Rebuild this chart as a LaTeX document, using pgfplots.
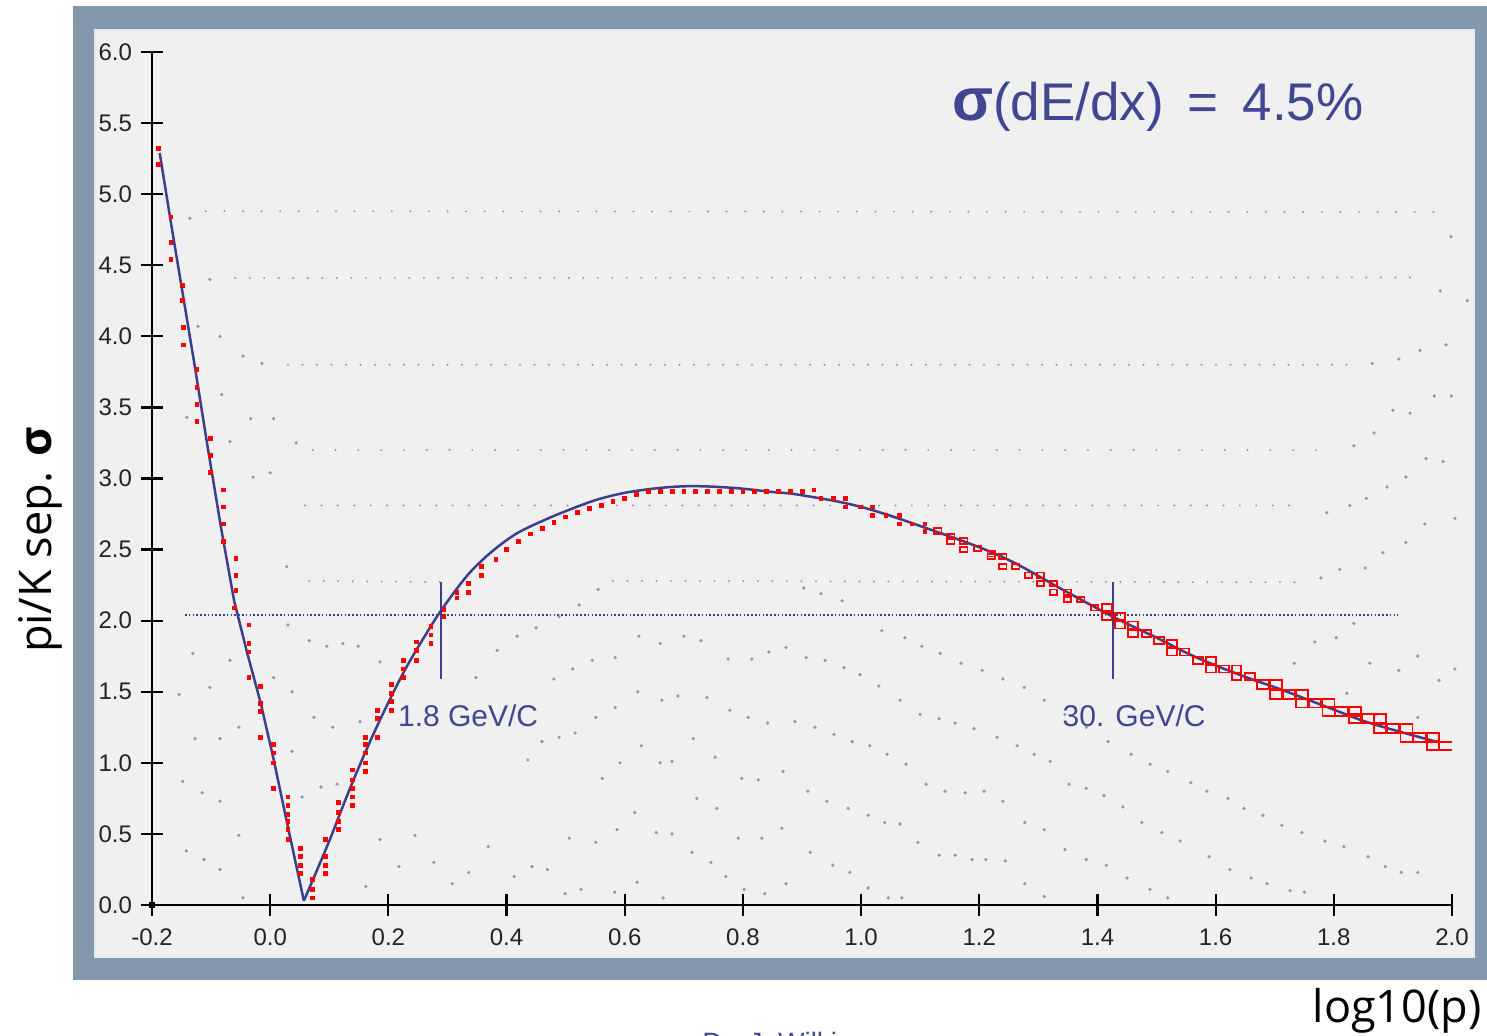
\documentclass[border=0pt]{standalone}
\usepackage{pgfplots}
\pgfplotsset{compat=1.18}
\usepackage{fontspec}
\setmainfont{Liberation Sans}
\newfontfamily\osans{Open Sans}
\definecolor{frame}{RGB}{133,151,172}
\definecolor{panel}{RGB}{240,240,240}
\definecolor{cblue}{RGB}{60,64,140}
\definecolor{tblue}{RGB}{64,70,146}
\definecolor{gdot}{RGB}{140,153,178}
\definecolor{tickgray}{RGB}{35,35,35}
\begin{document}
\begin{tikzpicture}
\useasboundingbox (0,0) rectangle (743.5pt,518pt);
\fill[frame] (36.5pt,28pt) rectangle (743.5pt,515pt);
\fill[panel] (47.5pt,39.5pt) rectangle (737pt,503pt);
\draw[white!80!frame, line width=0.6pt] (47.5pt,39.5pt) rectangle (737pt,503pt);
\begin{axis}[
  scale only axis, width=650pt, height=426.5pt,
  at={(76pt,65.5pt)}, anchor=south west,
  xmin=-0.2, xmax=2.0, ymin=0, ymax=6,
  clip=false,
  axis x line=bottom, axis y line=left,
  axis line style={-, line width=1.2pt, black},
  every outer x axis line/.append style={-},
  every outer y axis line/.append style={-},
  tick align=center, major tick length=11pt,
  tick style={line width=1.1pt, black},
  xtick={-0.2,0,0.2,0.4,0.6,0.8,1.0,1.2,1.4,1.6,1.8,2.0},
  ytick={0,0.5,1.0,1.5,2.0,2.5,3.0,3.5,4.0,4.5,5.0,5.5,6.0},
  ticklabel style={font=\fontsize{12}{14}\selectfont, text=tickgray},
  xticklabel style={yshift=-3pt},
  yticklabel style={xshift=-1pt},
  /pgf/number format/fixed, /pgf/number format/fixed zerofill,
  /pgf/number format/precision=1, /pgf/number format/assume math mode=true,
]
% ---- grey dotted background contours: rows
\addplot[gdot, line width=1.1pt, line cap=round, dash pattern=on 0pt off 9.3pt] coordinates {(-0.109,4.88) (1.969,4.875)};
\addplot[gdot, line width=1.1pt, line cap=round, dash pattern=on 0pt off 7.25pt] coordinates {(-0.059,4.41) (1.946,4.415)};
\addplot[gdot, line width=1.1pt, line cap=round, dash pattern=on 0pt off 7.25pt] coordinates {(0.030,3.80) (1.841,3.80)};
\addplot[gdot, line width=1.1pt, line cap=round, dash pattern=on 0pt off 11.4pt] coordinates {(0.072,3.20) (1.795,3.20)};
\addplot[gdot, line width=1.1pt, line cap=round, dash pattern=on 0pt off 8.2pt] coordinates {(0.059,2.81) (1.736,2.81)};
\addplot[gdot, line width=1.1pt, line cap=round, dash pattern=on 0pt off 7.25pt] coordinates {(0.066,2.28) (0.309,2.27)};
\addplot[gdot, line width=1.1pt, line cap=round, dash pattern=on 0pt off 7.25pt] coordinates {(0.58,2.28) (1.750,2.27)};
% ---- grey dots
\addplot[only marks, mark=*, mark size=0.6pt, gdot] coordinates {
(-0.136,4.83) (1.998,4.70) (-0.102,4.40) (1.980,4.32) (2.026,4.25)
(-0.122,4.07) (-0.085,4.00) (-0.046,3.86) (-0.014,3.81) (1.865,3.81) (1.910,3.84) (1.946,3.90) (1.990,3.94)
(-0.082,3.59) (-0.033,3.42) (0.006,3.42) (0.044,3.25) (1.834,3.23) (1.868,3.32) (1.900,3.48) (1.929,3.46) (1.970,3.58) (1.999,3.58)
(-0.141,3.43) (-0.068,3.26) (-0.029,3.01) (0.000,3.04)
(1.788,2.76) (1.827,2.81) (1.855,2.86) (1.890,2.94) (1.922,3.01) (1.956,3.14) (1.985,3.12)
(0.028,2.38) (1.778,2.30) (1.810,2.36) (1.853,2.37) (1.883,2.48) (1.922,2.55) (1.954,2.68) (2.005,2.72)
(0.348,1.60) (0.384,1.79) (0.418,1.89) (0.450,1.95) (0.489,2.03) (0.523,2.11) (0.555,2.22)
(0.903,2.23) (0.932,2.19) (0.968,2.14) (1.035,1.93) (1.074,1.88) (1.103,1.82) (1.134,1.77) (1.169,1.70)
(1.205,1.65) (1.240,1.59) (1.276,1.53) (1.310,1.44) (1.345,1.34) (1.381,1.25) (1.418,1.15) (1.457,1.06)
(1.489,0.99) (1.519,0.94) (1.558,0.86) (1.585,0.80) (1.621,0.75) (1.648,0.68) (1.680,0.63) (1.712,0.56)
(1.746,0.51) (1.785,0.45) (1.817,0.41) (1.858,0.34) (1.887,0.27) (1.914,0.23) (1.942,0.23)
(0.480,1.59) (0.512,1.66) (0.545,1.72) (0.584,1.74) (0.624,1.89) (0.660,1.84) (0.700,1.89) (0.729,1.86)
(0.775,1.73) (0.815,1.73) (0.844,1.78) (0.873,1.81) (0.907,1.74) (0.939,1.72) (0.971,1.67) (0.998,1.62)
(1.030,1.54) (1.066,1.44) (1.100,1.34) (1.132,1.31) (1.159,1.28) (1.191,1.24) (1.230,1.18) (1.264,1.12)
(1.293,1.06) (1.320,1.01) (1.352,0.85) (1.381,0.82) (1.411,0.77) (1.443,0.69) (1.475,0.58) (1.509,0.51)
(1.540,0.45) (1.589,0.34) (1.624,0.25) (1.660,0.19) (1.687,0.15) (1.726,0.10) (1.750,0.09)
(0.436,1.02) (0.460,1.15) (0.489,1.18) (0.516,1.21) (0.551,1.32) (0.584,1.39) (0.622,1.50) (0.663,1.44)
(0.690,1.47) (0.739,1.46) (0.778,1.37) (0.809,1.32) (0.842,1.28) (0.888,1.29) (0.922,1.25) (0.954,1.20)
(0.985,1.15) (1.015,1.12) (1.044,1.06) (1.076,0.99) (1.110,0.85) (1.142,0.80) (1.176,0.79) (1.208,0.80)
(1.240,0.73) (1.277,0.58) (1.310,0.53) (1.345,0.39) (1.381,0.32) (1.415,0.28) (1.450,0.19) (1.489,0.11) (1.519,0.05)
(0.910,0.80) (0.942,0.73) (0.978,0.68) (1.012,0.63) (1.040,0.58) (1.066,0.57) (1.096,0.44) (1.132,0.35)
(1.159,0.35) (1.188,0.32) (1.211,0.32) (1.244,0.31) (1.277,0.15) (1.310,0.06)
(0.914,0.37) (0.952,0.28) (0.981,0.23) (1.012,0.12) (1.046,0.05) (1.069,0.05)
(-0.131,1.77) (-0.068,1.72) (-0.102,1.53) (-0.154,1.48) (-0.053,1.25) (-0.127,1.17) (-0.085,1.17)
(-0.148,0.87) (-0.115,0.79) (-0.085,0.73) (-0.053,0.49) (-0.142,0.38) (-0.112,0.32) (-0.085,0.25) (-0.046,0.05)
(0.030,1.97) (0.066,1.86) (0.096,1.82) (0.123,1.84) (0.149,1.82) (0.186,1.71) (0.006,1.60) (0.037,1.50)
(0.074,1.32) (0.106,1.25) (0.152,1.29) (0.037,1.08) (0.086,0.83) (0.113,0.85) (0.054,0.76) (0.186,0.46)
(0.245,0.49) (0.162,0.13) (0.218,0.27) (0.277,0.30) (0.308,0.15) (0.336,0.23) (0.369,0.41) (0.413,0.20)
(0.443,0.27) (0.469,0.25)
(0.562,0.89) (0.592,1.00) (0.617,0.65) (0.587,0.53) (0.653,0.51) (0.680,0.50) (0.621,0.16) (0.665,0.05)
(0.583,0.09) (0.526,0.11) (0.499,0.08) (0.551,0.44) (0.506,0.47) (0.628,1.12) (0.660,1.00) (0.680,1.01)
(0.716,1.17) (0.753,1.04) (0.722,0.75) (0.756,0.68) (0.798,0.89) (0.826,0.88) (0.868,0.94) (0.792,0.47)
(0.832,0.47) (0.866,0.54) (0.714,0.37) (0.746,0.30) (0.771,0.20) (0.802,0.11) (0.837,0.08) (0.873,0.15)
(1.733,1.70) (1.768,1.85) (1.804,1.88) (1.834,1.98) (1.861,1.70) (1.910,1.65) (1.942,1.75) (1.978,1.58)
(2.005,1.66) (1.822,1.49) (1.871,1.34) (1.942,1.32)
};
% ---- horizontal 2 sigma line
\addplot[cblue, line width=0.8pt, dash pattern=on 0.8pt off 1.1pt] coordinates {(-0.144,2.04) (1.909,2.04)};
% ---- red data: small filled marks
\addplot[only marks, mark=square*, mark size=0.95pt, red, mark options={fill=red, draw=red}] coordinates {
(-0.189,5.32) (-0.189,5.21) (-0.168,4.84) (-0.168,4.66) (-0.168,4.54) (-0.148,4.36) (-0.148,4.25) (-0.147,4.06)
(-0.147,3.94) (-0.124,3.77) (-0.124,3.64) (-0.124,3.52) (-0.124,3.40) (-0.101,3.28) (-0.101,3.16) (-0.101,3.04)
(-0.079,2.92) (-0.079,2.80) (-0.079,2.68) (-0.079,2.56) (-0.058,2.44) (-0.058,2.32) (-0.058,2.21) (-0.061,2.09)
(-0.036,1.97) (-0.036,1.84) (-0.036,1.78) (-0.036,1.60) (-0.016,1.54) (-0.016,1.42) (-0.016,1.36) (-0.016,1.18)
(0.006,1.13) (0.006,1.07) (0.006,1.00) (0.006,0.82) (0.030,0.76) (0.030,0.70) (0.030,0.64) (0.030,0.59)
(0.030,0.53) (0.030,0.46) (0.051,0.40) (0.051,0.34) (0.051,0.28) (0.051,0.22) (0.071,0.18) (0.071,0.11) (0.071,0.05)
(0.094,0.46) (0.094,0.34) (0.094,0.28) (0.094,0.22) (0.116,0.72) (0.116,0.65) (0.116,0.59) (0.116,0.53)
(0.139,0.95) (0.139,0.88) (0.139,0.82) (0.139,0.76) (0.139,0.70) (0.161,1.18) (0.161,1.13) (0.161,1.07)
(0.161,1.00) (0.161,0.94) (0.182,1.37) (0.182,1.31) (0.182,1.18) (0.205,1.55) (0.205,1.49) (0.205,1.43)
(0.205,1.37) (0.225,1.72) (0.225,1.66) (0.225,1.60) (0.248,1.85) (0.248,1.79) (0.248,1.72) (0.272,1.96)
(0.272,1.90) (0.272,1.84) (0.294,2.08) (0.294,2.03) (0.316,2.20) (0.316,2.16) (0.336,2.26) (0.336,2.20)
(0.358,2.38) (0.358,2.32) (0.382,2.43)
(0.40,2.50) (0.42,2.56) (0.44,2.61) (0.46,2.65) (0.48,2.69) (0.50,2.73) (0.52,2.76) (0.54,2.79) (0.56,2.81)
(0.58,2.84) (0.60,2.86) (0.62,2.89) (0.64,2.91) (0.66,2.91) (0.68,2.91) (0.70,2.91) (0.72,2.91) (0.74,2.91)
(0.76,2.91) (0.78,2.91) (0.80,2.91) (0.82,2.91) (0.84,2.91) (0.86,2.91) (0.88,2.91) (0.90,2.91) (0.92,2.92)
(0.932,2.86) (0.953,2.86) (0.974,2.86) (0.974,2.80) (0.999,2.80) (1.019,2.80) (1.019,2.74) (1.042,2.74)
(1.065,2.74) (1.065,2.68) (1.086,2.68) (1.108,2.68) (1.108,2.63)
};
% ---- red data: open boxes
\addplot[only marks, mark=square, mark size=1.35pt, red, mark options={xscale=1.35, line width=0.9pt}] coordinates {
(1.130,2.63) (1.152,2.59) (1.152,2.56) (1.174,2.56) (1.174,2.50) (1.197,2.51) (1.220,2.47) (1.220,2.45)
(1.240,2.45) (1.240,2.38) (1.262,2.38) (1.283,2.32) (1.304,2.32) (1.304,2.26) (1.326,2.26) (1.326,2.20)
(1.349,2.20) (1.349,2.15) (1.372,2.15) (1.395,2.09)
};
\addplot[only marks, mark=square, mark size=1.75pt, red, mark options={xscale=1.35, line width=0.9pt}] coordinates {
(1.416,2.09) (1.416,2.03) (1.438,2.03) (1.438,1.97) (1.460,1.97) (1.460,1.91) (1.483,1.91) (1.504,1.86)
(1.526,1.84) (1.526,1.78) (1.547,1.78) (1.570,1.72) (1.592,1.72) (1.592,1.66) (1.614,1.66) (1.635,1.66)
(1.635,1.61) (1.658,1.61)
};
\addplot[only marks, mark=square, mark size=2.2pt, red, mark options={xscale=1.35, line width=0.9pt}] coordinates {
(1.680,1.55) (1.702,1.55) (1.702,1.48) (1.724,1.48) (1.746,1.48) (1.746,1.42) (1.768,1.42) (1.791,1.42)
(1.791,1.36) (1.813,1.36) (1.836,1.36) (1.836,1.31) (1.858,1.31) (1.878,1.31) (1.878,1.24) (1.900,1.24)
(1.923,1.24) (1.923,1.18) (1.945,1.18) (1.968,1.18) (1.968,1.12)
};
\addplot[red, line width=0.9pt] coordinates {(1.959,1.148) (2.0,1.148)};
\addplot[red, line width=0.9pt] coordinates {(1.959,1.092) (2.0,1.092)};
% ---- blue curve
\addplot[cblue, line width=1.25pt] coordinates {
(-0.187,5.29) (-0.168,4.80) (-0.148,4.30) (-0.128,3.80) (-0.105,3.20) (-0.083,2.65) (-0.061,2.14)
(-0.040,1.79) (-0.016,1.42) (0.005,1.04) (0.030,0.55) (0.057,0.03)
};
\addplot[cblue, line width=1.25pt, smooth, tension=0.6] coordinates {
(0.057,0.03) (0.098,0.43) (0.138,0.85) (0.180,1.25) (0.225,1.63) (0.260,1.88) (0.289,2.07) (0.330,2.30)
(0.360,2.43) (0.390,2.535) (0.420,2.62) (0.460,2.70) (0.500,2.77) (0.558,2.857) (0.620,2.913) (0.700,2.945)
(0.780,2.935) (0.850,2.905) (0.897,2.884) (1.000,2.80) (1.119,2.638) (1.238,2.45) (1.342,2.216) (1.426,2.028)
(1.500,1.88) (1.565,1.746) (1.640,1.62) (1.713,1.512) (1.790,1.39) (1.861,1.28) (1.973,1.149)
};
% ---- momentum markers
\addplot[cblue, line width=1.1pt] coordinates {(0.289,1.59) (0.289,2.27)};
\addplot[cblue, line width=1.1pt] coordinates {(1.426,1.59) (1.426,2.27)};
\addplot[only marks, mark=square*, mark size=1.3pt, black] coordinates {(-0.2,0)};
% ---- texts
\node[anchor=base, text=tblue, font=\fontsize{15}{18}\selectfont, inner sep=0] at (axis cs:0.335,1.252) {1.8 GeV/C};
\node[anchor=base, text=tblue, font=\fontsize{15}{18}\selectfont, inner sep=0] at (axis cs:1.462,1.252) {30. GeV/C};
\node[anchor=base, text=tblue, font=\fontsize{26.5}{30}\selectfont, inner sep=0] at (axis cs:1.502,5.52) {{\fontsize{30}{30}\selectfont\bfseries σ}(dE/dx)\hspace{0.45em}=\hspace{0.45em}4.5\%};
\end{axis}
\node[rotate=90, font=\osans\fontsize{22.5}{27}\selectfont, inner sep=0] at (20pt,248pt) {pi/K sep. {\bfseries σ}};
\node[anchor=base east, font=\osans\fontsize{22.5}{27}\selectfont, inner sep=0] at (741pt,6.5pt) {log10(p)};
\node[anchor=north west, text=tblue, font=\fontsize{14}{16}\selectfont, inner sep=0] at (351pt,2.2pt) {Dr. J. Wilkinson};
\end{tikzpicture}
\end{document}
